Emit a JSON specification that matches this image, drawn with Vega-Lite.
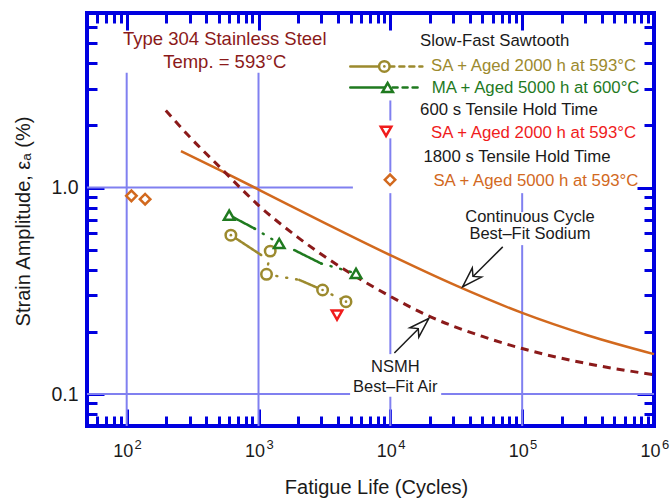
{
  "$schema": "https://vega.github.io/schema/vega-lite/v6.json",
  "width": 567,
  "height": 413,
  "autosize": {"type": "none"},
  "padding": {"left": 87, "top": 13, "right": 16, "bottom": 74},
  "background": "white",
  "config": {
    "view": {"stroke": "#0000e0", "strokeWidth": 4},
    "font": "Liberation Sans",
    "axis": {
      "domain": false, "grid": false, "tickColor": "#0000e0", "tickWidth": 3,
      "labelFont": "Liberation Sans", "labelColor": "#1a1a1a", "titleFont": "Liberation Sans",
      "titleColor": "#1a1a1a", "titleFontWeight": "normal", "titleFontSize": 20,
      "labelOverlap": false, "labelFlush": false, "labelBound": false, "zindex": 1
    },
    "text": {"font": "Liberation Sans"}
  },
  "datasets": {
    "gridlines": [
      {"x": 100, "x2": 100, "y": 0.07, "y2": 3.6},
      {"x": 1000, "x2": 1000, "y": 0.07, "y2": 3.6},
      {"x": 10000, "x2": 10000, "y": 0.07, "y2": 0.097},
      {"x": 10000, "x2": 10000, "y": 0.156, "y2": 0.939},
      {"x": 10000, "x2": 10000, "y": 1.186, "y2": 1.73},
      {"x": 10000, "x2": 10000, "y": 2.11, "y2": 2.64},
      {"x": 100000, "x2": 100000, "y": 0.07, "y2": 0.526},
      {"x": 100000, "x2": 100000, "y": 0.76, "y2": 0.939},
      {"x": 50, "x2": 4950, "y": 0.1, "y2": 0.1},
      {"x": 24300, "x2": 1000000, "y": 0.1, "y2": 0.1},
      {"x": 50, "x2": 5200, "y": 1, "y2": 1}
    ],
    "curves": [
      {"series": "Sodium", "x": 258, "y": 1.5},
      {"series": "Sodium", "x": 500, "y": 1.22},
      {"series": "Sodium", "x": 1000, "y": 0.978},
      {"series": "Sodium", "x": 3162, "y": 0.674},
      {"series": "Sodium", "x": 10000, "y": 0.47},
      {"series": "Sodium", "x": 31623, "y": 0.3345},
      {"series": "Sodium", "x": 100000, "y": 0.247},
      {"series": "Sodium", "x": 316228, "y": 0.192},
      {"series": "Sodium", "x": 1000000, "y": 0.156},
      {"series": "Air", "x": 198, "y": 2.36},
      {"series": "Air", "x": 300, "y": 1.76},
      {"series": "Air", "x": 500, "y": 1.27},
      {"series": "Air", "x": 1000, "y": 0.82},
      {"series": "Air", "x": 2000, "y": 0.572},
      {"series": "Air", "x": 4000, "y": 0.42},
      {"series": "Air", "x": 10000, "y": 0.297},
      {"series": "Air", "x": 20000, "y": 0.237},
      {"series": "Air", "x": 50000, "y": 0.19},
      {"series": "Air", "x": 100000, "y": 0.166},
      {"series": "Air", "x": 300000, "y": 0.141},
      {"series": "Air", "x": 1000000, "y": 0.124}
    ],
    "segments": [
      {"seg": "s1", "series": "SA2000", "part": "solid", "x": 617, "y": 0.588},
      {"seg": "s1", "series": "SA2000", "part": "solid", "x": 1048, "y": 0.471},
      {"seg": "s2", "series": "SA2000", "part": "dotted", "x": 1227, "y": 0.492},
      {"seg": "s2", "series": "SA2000", "part": "dotted", "x": 1150, "y": 0.38},
      {"seg": "s3", "series": "SA2000", "part": "dotted", "x": 1150, "y": 0.38},
      {"seg": "s3", "series": "SA2000", "part": "dotted", "x": 2037, "y": 0.357},
      {"seg": "s4", "series": "SA2000", "part": "solid", "x": 2037, "y": 0.357},
      {"seg": "s4", "series": "SA2000", "part": "solid", "x": 3062, "y": 0.319},
      {"seg": "s5", "series": "SA2000", "part": "dotted", "x": 3062, "y": 0.319},
      {"seg": "s5", "series": "SA2000", "part": "dotted", "x": 4609, "y": 0.28},
      {"seg": "g1", "series": "MA5000", "part": "solid", "x": 599, "y": 0.735},
      {"seg": "g1", "series": "MA5000", "part": "solid", "x": 928, "y": 0.634},
      {"seg": "g2", "series": "MA5000", "part": "dotted", "x": 928, "y": 0.634},
      {"seg": "g2", "series": "MA5000", "part": "dotted", "x": 1436, "y": 0.536},
      {"seg": "g3", "series": "MA5000", "part": "solid", "x": 1866, "y": 0.498},
      {"seg": "g3", "series": "MA5000", "part": "solid", "x": 2977, "y": 0.429},
      {"seg": "g4", "series": "MA5000", "part": "dotted", "x": 2977, "y": 0.429},
      {"seg": "g4", "series": "MA5000", "part": "dotted", "x": 5490, "y": 0.384},
      {"seg": "L1", "series": "SA2000", "part": "solid", "x": 4966, "y": 3.86},
      {"seg": "L1", "series": "SA2000", "part": "solid", "x": 9005, "y": 3.86},
      {"seg": "L2", "series": "SA2000", "part": "dashed", "x": 9827, "y": 3.86},
      {"seg": "L2", "series": "SA2000", "part": "dashed", "x": 17500, "y": 3.86},
      {"seg": "L3", "series": "MA5000", "part": "solid", "x": 4966, "y": 3.05},
      {"seg": "L3", "series": "MA5000", "part": "solid", "x": 9539, "y": 3.05},
      {"seg": "L4", "series": "MA5000", "part": "dashed", "x": 10400, "y": 3.05},
      {"seg": "L4", "series": "MA5000", "part": "dashed", "x": 17500, "y": 3.05}
    ],
    "points": [
      {"series": "SA2000", "x": 617, "y": 0.588, "dot": true},
      {"series": "SA2000", "x": 1227, "y": 0.492, "dot": false},
      {"series": "SA2000", "x": 1150, "y": 0.38, "dot": false},
      {"series": "SA2000", "x": 3062, "y": 0.319, "dot": true},
      {"series": "SA2000", "x": 4609, "y": 0.28, "dot": true},
      {"series": "MA5000", "x": 599, "y": 0.735, "dot": false},
      {"series": "MA5000", "x": 1436, "y": 0.536, "dot": false},
      {"series": "MA5000", "x": 5490, "y": 0.384, "dot": false},
      {"series": "Hold600", "x": 3939, "y": 0.241, "dot": false},
      {"series": "Hold1800", "x": 108.6, "y": 0.911, "dot": false},
      {"series": "Hold1800", "x": 138, "y": 0.878, "dot": false},
      {"series": "SA2000", "x": 9005, "y": 3.86, "dot": true},
      {"series": "MA5000", "x": 9539, "y": 3.05, "dot": false},
      {"series": "Hold600", "x": 9277, "y": 1.87, "dot": false},
      {"series": "Hold1800", "x": 9947, "y": 1.09, "dot": false}
    ],
    "texts": [
      {"role": "title", "series": "title", "text": "Type 304 Stainless Steel", "x": 554, "y": 5.25},
      {"role": "title", "series": "title", "text": "Temp. = 593°C", "x": 554, "y": 4.07},
      {"role": "legend", "series": "header", "text": "Slow-Fast Sawtooth", "x": 16810, "y": 5.107},
      {"role": "legend", "series": "SA2000", "text": "SA + Aged 2000 h at 593°C", "x": 20370, "y": 3.855},
      {"role": "legend", "series": "MA5000", "text": "MA + Aged 5000 h at 600°C", "x": 20590, "y": 3.04},
      {"role": "legend", "series": "header", "text": "600 s Tensile Hold Time", "x": 16810, "y": 2.363},
      {"role": "legend", "series": "Hold600", "text": "SA + Aged 2000 h at 593°C", "x": 20370, "y": 1.835},
      {"role": "legend", "series": "header", "text": "1800 s Tensile Hold Time", "x": 17810, "y": 1.405},
      {"role": "legend", "series": "Hold1800", "text": "SA + Aged 5000 h at 593°C", "x": 21210, "y": 1.076},
      {"role": "note", "series": "note", "text": "Continuous Cycle", "x": 114500, "y": 0.721},
      {"role": "note", "series": "note", "text": "Best–Fit Sodium", "x": 114500, "y": 0.595},
      {"role": "note", "series": "note", "text": "NSMH", "x": 10900, "y": 0.1355},
      {"role": "note", "series": "note", "text": "Best–Fit Air", "x": 10900, "y": 0.1083}
    ],
    "decades": [
      {"x": 100},
      {"x": 1000},
      {"x": 10000},
      {"x": 100000},
      {"x": 1000000}
    ],
    "arrows": [
      {"arrow": "Sodium", "x": 35400, "y": 0.331, "x2": 71240, "y2": 0.516},
      {"arrow": "Air", "x": 19540, "y": 0.232, "x2": 10730, "y2": 0.158}
    ]
  },
  "layer": [
    {
      "data": {"name": "gridlines"},
      "mark": {"type": "rule", "color": "#8080f0", "strokeWidth": 2},
      "encoding": {
        "x": {
          "field": "x", "type": "quantitative",
          "scale": {"type": "log", "domain": [50, 1000000], "nice": false, "zero": false},
          "axis": {
            "orient": "top", "labels": false, "title": null,
            "values": [60,70,80,90,100,200,300,400,500,600,700,800,900,1000,2000,3000,4000,5000,6000,7000,8000,9000,10000,20000,30000,40000,50000,60000,70000,80000,90000,100000,200000,300000,400000,500000,600000,700000,800000,900000,1000000],
            "tickSize": {"condition": {"test": "abs(log(datum.value)/LN10 - round(log(datum.value)/LN10)) < 0.01", "value": -17}, "value": -10}
          }
        },
        "x2": {"field": "x2"},
        "y": {
          "field": "y", "type": "quantitative",
          "scale": {"type": "log", "domain": [0.07, 7], "nice": false, "zero": false},
          "axis": {
            "orient": "right", "labels": false, "title": null,
            "values": [0.08,0.09,0.1,0.2,0.3,0.4,0.5,0.6,0.7,0.8,0.9,1,2,3,4,5,6],
            "tickSize": {"condition": {"test": "abs(log(datum.value)/LN10 - round(log(datum.value)/LN10)) < 0.01", "value": -17}, "value": -10}
          }
        },
        "y2": {"field": "y2"}
      }
    },
    {
      "encoding": {
        "x": {
          "field": "x", "type": "quantitative",
          "scale": {"type": "log", "domain": [50, 1000000], "nice": false, "zero": false},
          "axis": {
            "orient": "bottom", "title": "Fatigue Life (Cycles)",
            "values": [60,70,80,90,100,200,300,400,500,600,700,800,900,1000,2000,3000,4000,5000,6000,7000,8000,9000,10000,20000,30000,40000,50000,60000,70000,80000,90000,100000,200000,300000,400000,500000,600000,700000,800000,900000,1000000],
            "tickSize": {"condition": {"test": "abs(log(datum.value)/LN10 - round(log(datum.value)/LN10)) < 0.01", "value": -17}, "value": -10},
            "labelExpr": "abs(log(datum.value)/LN10 - round(log(datum.value)/LN10)) < 0.01 ? '10' : ''",
            "labelFontSize": 18, "labelPadding": 42, "labelBaseline": "middle", "labelOffset": -4,
            "titleX": 289, "titleY": 61, "titleAlign": "center", "titleBaseline": "middle"
          }
        },
        "y": {
          "field": "y", "type": "quantitative",
          "scale": {"type": "log", "domain": [0.07, 7], "nice": false, "zero": false},
          "axis": {
            "orient": "left", "title": "Strain Amplitude,  εₐ (%)",
            "values": [0.08,0.09,0.1,0.2,0.3,0.4,0.5,0.6,0.7,0.8,0.9,1,2,3,4,5,6],
            "tickSize": {"condition": {"test": "abs(log(datum.value)/LN10 - round(log(datum.value)/LN10)) < 0.01", "value": -17}, "value": -10},
            "labelExpr": "abs(log(datum.value)/LN10 - round(log(datum.value)/LN10)) < 0.01 ? format(datum.value, '.1f') : ''",
            "labelFontSize": 19.5, "labelPadding": 26, "labelBaseline": "middle",
            "titleX": -64, "titleY": 208, "titleAlign": "center", "titleBaseline": "middle", "titleAngle": 270
          }
        }
      },
      "layer": [
        {
          "data": {"name": "curves"},
          "transform": [{"filter": "datum.series == 'Sodium'"}],
          "mark": {"type": "line", "strokeWidth": 2.5, "interpolate": "monotone"},
          "encoding": {
            "color": {"field": "series", "type": "nominal", "legend": null,
              "scale": {"domain": ["header","note","title","SA2000","MA5000","Hold600","Hold1800","Sodium","Air"],
                        "range": ["#1a1a1a","#1a1a1a","#8b1a1a","#9c8a2e","#1f7a1f","#f01c1c","#d2691e","#d2691e","#8b1a1a"]}}
          }
        },
        {
          "data": {"name": "curves"},
          "transform": [{"filter": "datum.series == 'Air'"}],
          "mark": {"type": "line", "strokeWidth": 3, "strokeDash": [8, 6], "interpolate": "monotone"},
          "encoding": {"color": {"field": "series", "type": "nominal", "legend": null}}
        },
        {
          "data": {"name": "segments"},
          "mark": {"type": "line", "strokeWidth": 2.5, "strokeCap": "round"},
          "encoding": {
            "detail": {"field": "seg"},
            "color": {"field": "series", "type": "nominal", "legend": null},
            "strokeDash": {"field": "part", "type": "nominal", "legend": null,
              "scale": {"domain": ["solid", "dotted", "dashed"], "range": [[1, 0], [1, 9], [5, 5]]}}
          }
        },
        {
          "data": {"name": "points"},
          "mark": {"type": "point", "filled": true, "fill": "white", "strokeWidth": 2.5, "size": 110, "opacity": 1},
          "encoding": {
            "shape": {"field": "series", "type": "nominal", "legend": null,
              "scale": {"domain": ["SA2000","MA5000","Hold600","Hold1800"], "range": ["circle","triangle-up","triangle-down","diamond"]}},
            "stroke": {"field": "series", "type": "nominal", "legend": null,
              "scale": {"domain": ["SA2000","MA5000","Hold600","Hold1800"], "range": ["#9c8a2e","#1f7a1f","#f01c1c","#d2691e"]}}
          }
        },
        {
          "data": {"name": "points"},
          "transform": [{"filter": "datum.dot"}],
          "mark": {"type": "point", "filled": true, "shape": "circle", "size": 7, "opacity": 1},
          "encoding": {"color": {"field": "series", "type": "nominal", "legend": null}}
        },
        {
          "data": {"name": "texts"},
          "transform": [{"filter": "datum.role == 'title'"}],
          "mark": {"type": "text", "fontSize": 18.5, "align": "center", "baseline": "middle"},
          "encoding": {"text": {"field": "text"}, "color": {"field": "series", "type": "nominal", "legend": null}}
        },
        {
          "data": {"name": "texts"},
          "transform": [{"filter": "datum.role == 'legend'"}],
          "mark": {"type": "text", "fontSize": 16.8, "align": "left", "baseline": "middle"},
          "encoding": {"text": {"field": "text"}, "color": {"field": "series", "type": "nominal", "legend": null}}
        },
        {
          "data": {"name": "texts"},
          "transform": [{"filter": "datum.role == 'note'"}],
          "mark": {"type": "text", "fontSize": 16.5, "align": "center", "baseline": "middle"},
          "encoding": {"text": {"field": "text"}, "color": {"field": "series", "type": "nominal", "legend": null}}
        },
        {
          "data": {"name": "arrows"},
          "mark": {"type": "rule", "color": "#1a1a1a", "strokeWidth": 1.5},
          "encoding": {"x2": {"field": "x2"}, "y2": {"field": "y2"}}
        },
        {
          "data": {"name": "arrows"},
          "transform": [{"filter": "datum.arrow == 'Sodium'"}],
          "mark": {"type": "point", "shape": "M0,0L0.65,2L0,1.45L-0.65,2Z", "filled": true, "fill": "white", "stroke": "#1a1a1a", "strokeWidth": 1.5, "angle": 225, "opacity": 1},
          "encoding": {"size": {"value": 400}}
        },
        {
          "data": {"name": "arrows"},
          "transform": [{"filter": "datum.arrow == 'Air'"}],
          "mark": {"type": "point", "shape": "M0,0L0.65,2L0,1.45L-0.65,2Z", "filled": true, "fill": "white", "stroke": "#1a1a1a", "strokeWidth": 1.5, "angle": 46, "opacity": 1},
          "encoding": {"size": {"value": 400}}
        }
      ]
    },
    {
      "data": {"name": "decades"},
      "mark": {"type": "point", "opacity": 0},
      "encoding": {
        "x": {
          "field": "x", "type": "quantitative",
          "scale": {"type": "log", "domain": [50, 1000000], "nice": false, "zero": false},
          "axis": {
            "orient": "bottom", "title": null, "ticks": false, "domain": false,
            "values": [100, 1000, 10000, 100000, 1000000],
            "labelExpr": "'' + round(log(datum.value)/LN10)",
            "labelFontSize": 13, "labelPadding": 18, "labelBaseline": "middle", "labelOffset": 11
          }
        }
      }
    }
  ],
  "resolve": {"axis": {"x": "independent", "y": "independent"}}
}
